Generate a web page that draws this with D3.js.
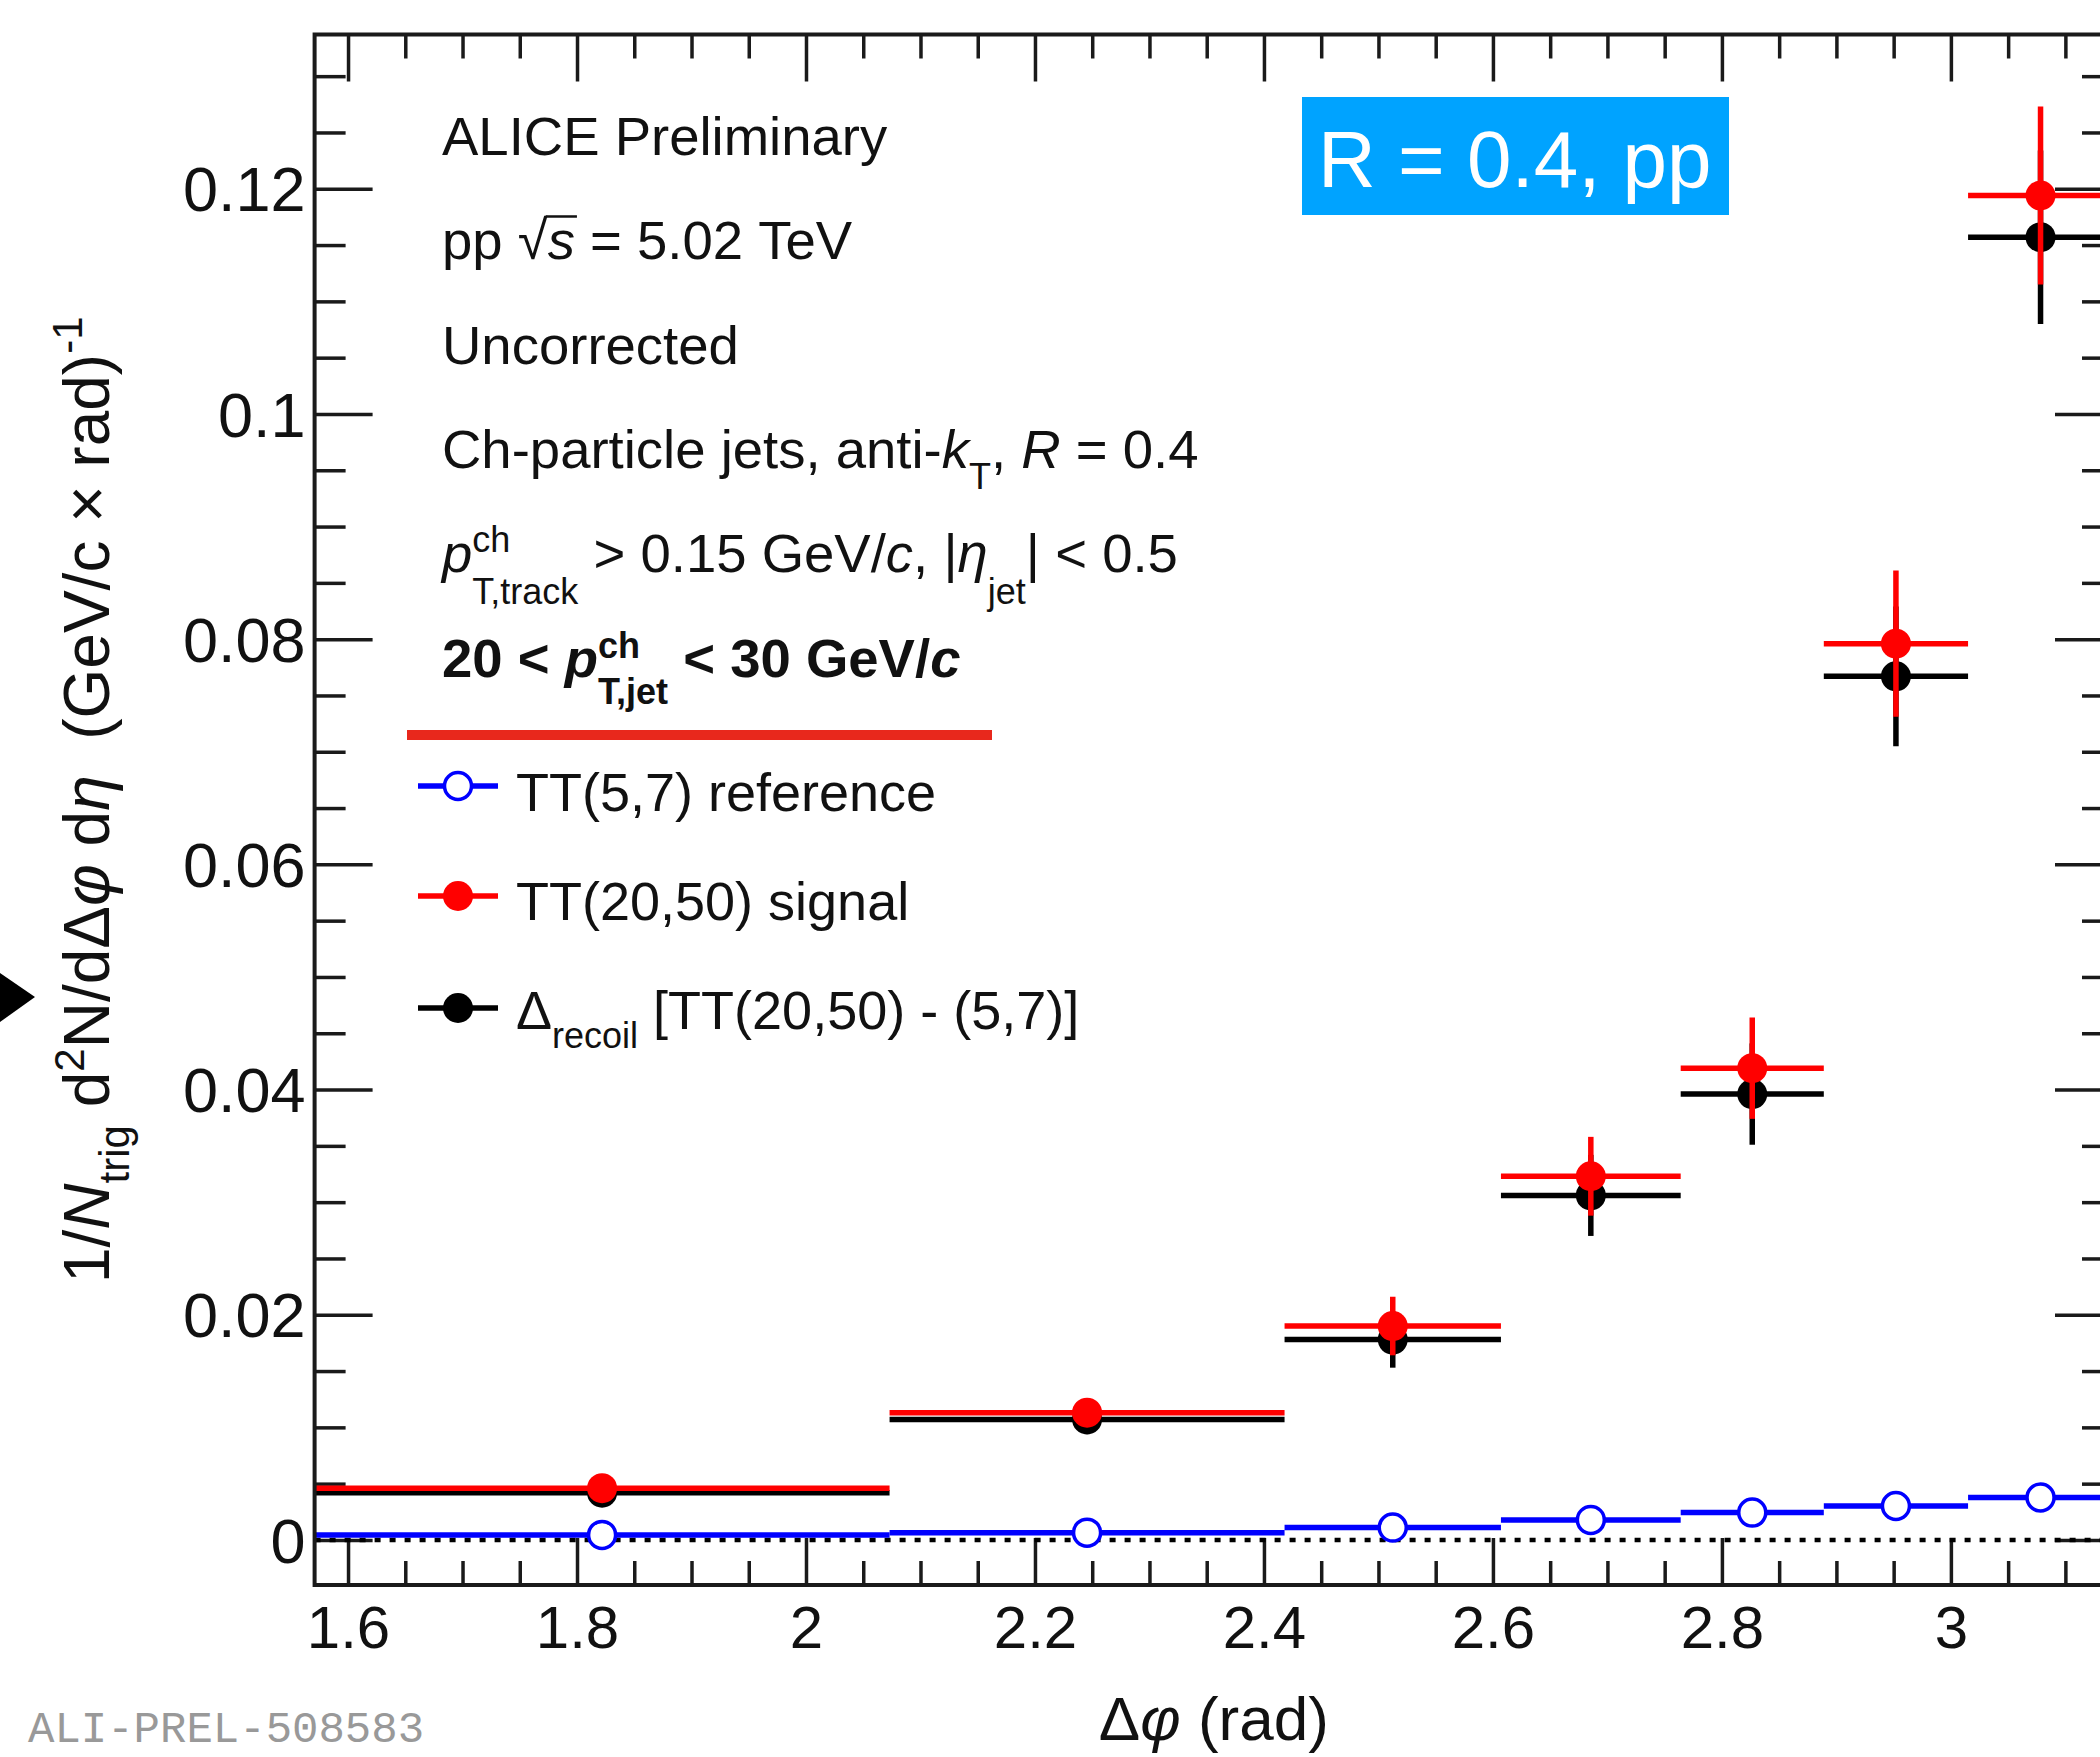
<!DOCTYPE html>
<html>
<head>
<meta charset="utf-8">
<script src="https://cdn.jsdelivr.net/npm/d3@7"></script>
<style>
  body { margin: 0; background: #fff; }
  svg { display: block; }
</style>
</head>
<body>
<script>
// bin edges in delta-phi (rad), points sit at the bin centres
var binEdges = [1.5708, 2.073, 2.418, 2.607, 2.764, 2.889, 3.015, 3.1416];

// TT(5,7) reference
var refVals = [0.00045, 0.00065, 0.00110, 0.00178, 0.00243, 0.00302, 0.00377];
var refErrs = [0.0001, 0.0001, 0.00012, 0.00015, 0.00018, 0.0002, 0.00025];
// TT(20,50) signal
var sigVals = [0.0046, 0.0113, 0.0190, 0.0323, 0.0419, 0.0796, 0.1194];
var sigErrs = [0.0010, 0.0012, 0.0026, 0.0035, 0.0045, 0.0065, 0.0079];
// Delta recoil
var recVals = [0.0042, 0.0107, 0.0178, 0.0306, 0.0396, 0.0767, 0.1157];
var recErrs = [0.0010, 0.0013, 0.0025, 0.0036, 0.0045, 0.0062, 0.0077];

var xTicks = [1.6, 1.8, 2, 2.2, 2.4, 2.6, 2.8, 3];
var xTickLabels = ["1.6", "1.8", "2", "2.2", "2.4", "2.6", "2.8", "3"];
var yTicks = [0, 0.02, 0.04, 0.06, 0.08, 0.1, 0.12];
var yTickLabels = ["0", "0.02", "0.04", "0.06", "0.08", "0.1", "0.12"];

var W = 2100, H = 1757;
var font = "'Liberation Sans', Arial, Helvetica, sans-serif";
var ink = "#1a1a1a";

var svg = d3.select("body").append("svg")
    .attr("width", W)
    .attr("height", H)
    .style("font-family", font);

var x = d3.scaleLinear().domain([Math.PI / 2, Math.PI]).range([314.6, 2113]);
var y = d3.scaleLinear().domain([-0.004, 0.1337]).range([1585, 34.5]);

var x0 = x.range()[0], x1 = x.range()[1], yb = y.range()[0], yt = y.range()[1];

// minor tick positions
var xMinor = d3.range(1.6, 3.15, 0.05).filter(function(v) {
  return Math.abs(v / 0.2 - Math.round(v / 0.2)) > 1e-6;
});
var yMinor = d3.range(0.005, 0.135, 0.005).filter(function(v) {
  return Math.abs(v / 0.02 - Math.round(v / 0.02)) > 1e-6;
});

function addAxis(axis, tx, ty) {
  var g = svg.append("g")
      .attr("transform", "translate(" + tx + "," + ty + ")")
      .call(axis);
  g.select(".domain").remove();
  g.selectAll("line").attr("stroke", ink).attr("stroke-width", 3.5);
  g.attr("font-family", font).attr("font-size", null);
  return g;
}

// bottom
var gxb = addAxis(d3.axisBottom(x).tickValues(xTicks)
    .tickFormat(function(d, i) { return xTickLabels[i]; })
    .tickSizeInner(-47).tickSizeOuter(0).tickPadding(20), 0, yb);
gxb.selectAll("text").attr("font-size", 60).attr("fill", "#111");
addAxis(d3.axisBottom(x).tickValues(xMinor).tickFormat("")
    .tickSizeInner(-24).tickSizeOuter(0), 0, yb);
// top
addAxis(d3.axisTop(x).tickValues(xTicks).tickFormat("")
    .tickSizeInner(-47).tickSizeOuter(0), 0, yt);
addAxis(d3.axisTop(x).tickValues(xMinor).tickFormat("")
    .tickSizeInner(-24).tickSizeOuter(0), 0, yt);
// left
var gyl = addAxis(d3.axisLeft(y).tickValues(yTicks)
    .tickFormat(function(d, i) { return yTickLabels[i]; })
    .tickSizeInner(-58).tickSizeOuter(0).tickPadding(9), x0, 0);
gyl.selectAll("text").attr("font-size", 63).attr("fill", "#111").attr("dy", "0.35em");
addAxis(d3.axisLeft(y).tickValues(yMinor).tickFormat("")
    .tickSizeInner(-31).tickSizeOuter(0), x0, 0);
// right
addAxis(d3.axisRight(y).tickValues(yTicks).tickFormat("")
    .tickSizeInner(-58).tickSizeOuter(0), x1, 0);
addAxis(d3.axisRight(y).tickValues(yMinor).tickFormat("")
    .tickSizeInner(-31).tickSizeOuter(0), x1, 0);

// dotted zero line
svg.append("line")
    .attr("x1", x0).attr("x2", x1)
    .attr("y1", y(0)).attr("y2", y(0))
    .attr("stroke", "#000").attr("stroke-width", 4.5)
    .attr("stroke-dasharray", "6,9");

// data series
var bins = d3.range(binEdges.length - 1).map(function(i) {
  return { lo: binEdges[i], hi: binEdges[i + 1], c: (binEdges[i] + binEdges[i + 1]) / 2 };
});

function drawSeries(vals, errs, color, open) {
  var g = svg.append("g");
  var rows = bins.map(function(b, i) { return { b: b, v: vals[i], e: errs[i] }; });
  g.selectAll(".h").data(rows).enter().append("line")
      .attr("x1", function(d) { return x(d.b.lo); })
      .attr("x2", function(d) { return x(d.b.hi); })
      .attr("y1", function(d) { return y(d.v); })
      .attr("y2", function(d) { return y(d.v); })
      .attr("stroke", color).attr("stroke-width", 5.5);
  g.selectAll(".v").data(rows).enter().append("line")
      .attr("x1", function(d) { return x(d.b.c); })
      .attr("x2", function(d) { return x(d.b.c); })
      .attr("y1", function(d) { return y(d.v - d.e); })
      .attr("y2", function(d) { return y(d.v + d.e); })
      .attr("stroke", color).attr("stroke-width", 5.5);
  g.selectAll("circle").data(rows).enter().append("circle")
      .attr("cx", function(d) { return x(d.b.c); })
      .attr("cy", function(d) { return y(d.v); })
      .attr("r", open ? 13.5 : 15)
      .attr("fill", open ? "#fff" : color)
      .attr("stroke", open ? color : "none")
      .attr("stroke-width", 3.5);
}

drawSeries(refVals, refErrs, "#0000ff", true);
drawSeries(recVals, recErrs, "#000000", false);
drawSeries(sigVals, sigErrs, "#ff0000", false);

// frame
svg.append("rect")
    .attr("x", x0).attr("y", yt)
    .attr("width", x1 - x0).attr("height", yb - yt)
    .attr("fill", "none").attr("stroke", ink).attr("stroke-width", 4);

// text with italic parts, sub/superscripts; advances by measured widths
function rich(g, sx, sy, parts, base) {
  var cx = sx;
  function put(t, px, py, p) {
    var el = g.append("text")
        .attr("x", px).attr("y", py)
        .attr("font-size", p.fs || base.fs)
        .attr("font-weight", base.bold ? "bold" : "normal")
        .attr("font-style", p.it ? "italic" : "normal")
        .attr("fill", base.fill || "#111")
        .text(t.replace(/ /g, "\u00a0"));
    return el.node().getComputedTextLength();
  }
  parts.forEach(function(p) {
    if (p.stack) {
      var w = p.stack.map(function(s) { return put(s.t, cx, sy + s.dy, s); });
      cx += d3.max(w);
    } else {
      var w = put(p.t, cx + (p.dx || 0), sy + (p.dy || 0), p);
      if (p.over) {
        g.append("line")
            .attr("x1", cx - 2).attr("x2", cx + w + 2)
            .attr("y1", sy - (p.fs || base.fs) * 0.78)
            .attr("y2", sy - (p.fs || base.fs) * 0.78)
            .attr("stroke", "#111").attr("stroke-width", 2.5);
      }
      cx += w + (p.dx || 0);
    }
  });
  return cx - sx;
}

var M = 54.5, S = 36;
var tg = svg.append("g");
var tx = 442;
rich(tg, tx, 155, [{ t: "ALICE Preliminary" }], { fs: M });
rich(tg, tx, 259, [{ t: "pp " }, { t: "\u221a" }, { t: "s", it: 1, over: 1 }, { t: " = 5.02 TeV" }], { fs: M });
rich(tg, tx, 364, [{ t: "Uncorrected" }], { fs: M });
rich(tg, tx, 468, [
  { t: "Ch-particle jets, anti-" }, { t: "k", it: 1 }, { t: "T", fs: S, dy: 21 },
  { t: ", " }, { t: "R", it: 1 }, { t: " = 0.4" }], { fs: M });
rich(tg, tx, 572, [
  { t: "p", it: 1 },
  { stack: [{ t: "ch", fs: S, dy: -20 }, { t: "T,track", fs: S, dy: 32 }] },
  { t: " > 0.15 GeV/" }, { t: "c", it: 1 }, { t: ", |" }, { t: "\u03b7", it: 1 },
  { t: "jet", fs: S, dy: 32 }, { t: "| < 0.5" }], { fs: M });
rich(tg, tx, 677, [
  { t: "20 < " }, { t: "p", it: 1 },
  { stack: [{ t: "ch", fs: S, dy: -19 }, { t: "T,jet", fs: S, dy: 27 }] },
  { t: " < 30 GeV/" }, { t: "c", it: 1 }], { fs: M, bold: true });

// hand drawn red underline
svg.append("line")
    .attr("x1", 407).attr("x2", 992).attr("y1", 735).attr("y2", 735)
    .attr("stroke", "#e8281c").attr("stroke-width", 10);

// legend
var legend = [
  { color: "#0000ff", open: true, ly: 786, ty: 811,
    parts: [{ t: "TT(5,7) reference" }] },
  { color: "#ff0000", open: false, ly: 896, ty: 920,
    parts: [{ t: "TT(20,50) signal" }] },
  { color: "#000000", open: false, ly: 1008, ty: 1029,
    parts: [{ t: "\u0394" }, { t: "recoil", fs: S, dy: 19 }, { t: " [TT(20,50) - (5,7)]" }] }
];
var lg = svg.append("g");
legend.forEach(function(d) {
  lg.append("line").attr("x1", 418).attr("x2", 498).attr("y1", d.ly).attr("y2", d.ly)
      .attr("stroke", d.color).attr("stroke-width", 5.5);
  lg.append("circle").attr("cx", 458).attr("cy", d.ly)
      .attr("r", d.open ? 13.5 : 15)
      .attr("fill", d.open ? "#fff" : d.color)
      .attr("stroke", d.open ? d.color : "none").attr("stroke-width", 3.5);
  rich(lg, 516, d.ty, d.parts, { fs: 54 });
});

// R = 0.4, pp box
svg.append("rect").attr("x", 1302).attr("y", 97).attr("width", 427).attr("height", 118)
    .attr("fill", "#00a3ff");
svg.append("text").attr("x", 1318).attr("y", 187)
    .attr("font-size", 80).attr("fill", "#fff").text("R = 0.4, pp");

// y axis title (rotated)
var yt_g = svg.append("g").attr("transform", "translate(109,1283) rotate(-90)");
rich(yt_g, 0, 0, [
  { t: "1/" }, { t: "N", it: 1 }, { t: "trig", fs: 42, dy: 20 },
  { t: " d" }, { t: "2", fs: 42, dy: -25 }, { t: "N/d\u0394" }, { t: "\u03c6", it: 1 },
  { t: " d" }, { t: "\u03b7", it: 1 }, { t: "  (GeV/c \u00d7 rad)" },
  { t: "-1", fs: 42, dy: -27 }], { fs: 64 });

// x axis title
var xt_g = svg.append("g");
var xw = rich(xt_g, 0, 1740, [{ t: "\u0394" }, { t: "\u03c6", it: 1 }, { t: " (rad)" }], { fs: 62 });
xt_g.attr("transform", "translate(" + ((x0 + x1) / 2 - xw / 2) + ",0)");

// preliminary tag
svg.append("text").attr("x", 28).attr("y", 1742)
    .attr("font-family", "'Liberation Mono', 'Courier New', monospace")
    .attr("font-size", 44).attr("fill", "#999").text("ALI-PREL-508583");

// scribbled black arrow at the left edge
svg.append("path").attr("d", "M0,973 L35,997 L0,1022 Z").attr("fill", "#000");
</script>
</body>
</html>
